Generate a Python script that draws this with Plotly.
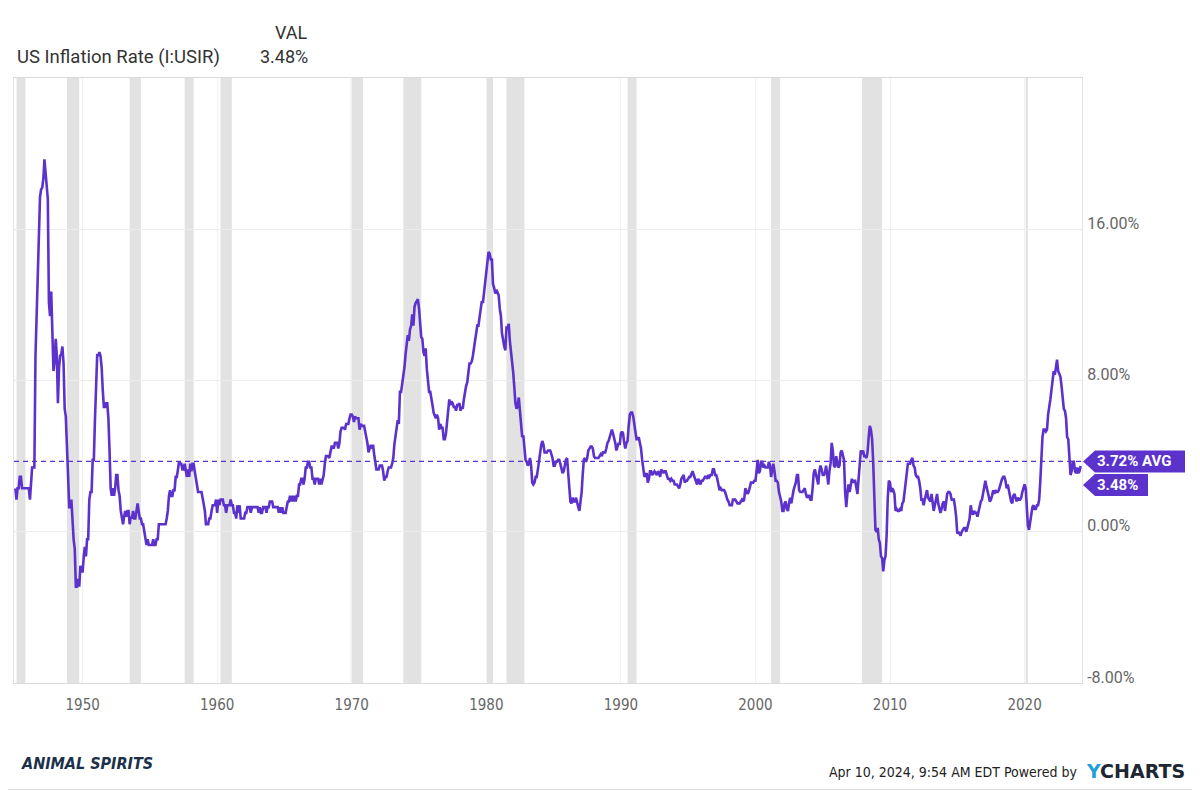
import pandas as pd
import plotly.graph_objects as go

# ---------------- data (monthly YoY US CPI inflation, %) ----------------
infl_1940s = [  # 1945-1949
    2.3, 1.7, 2.3, 2.3, 2.9, 2.9, 2.3, 2.3, 2.3, 2.3, 2.3, 2.3,
    2.3, 1.7, 2.8, 3.4, 3.4, 3.4, 9.3, 11.6, 12.7, 14.9, 17.7, 18.1,
    18.2, 18.7, 19.7, 19.0, 18.4, 17.6, 12.1, 11.4, 12.7, 10.6, 8.5, 9.0,
    10.2, 9.3, 6.8, 8.7, 9.3, 9.4, 9.8, 8.9, 6.5, 6.1, 4.8, 3.0,
    1.3, 1.3, 1.7, 0.4, -0.4, -0.9, -2.9, -2.9, -2.5, -2.9, -1.8, -2.1,
]
infl_1950s = [
    -2.1, -1.3, -0.8, -1.3, -0.4, -0.4, 1.7, 2.1, 2.1, 3.8, 3.8, 5.9,
    8.1, 9.4, 9.3, 9.5, 9.3, 8.7, 7.5, 6.6, 6.6, 6.8, 6.8, 6.0,
    4.3, 2.3, 1.9, 2.3, 1.9, 2.3, 3.0, 3.0, 2.2, 1.9, 1.1, 0.8,
    0.4, 0.8, 1.1, 0.8, 1.1, 1.1, 0.4, 0.8, 0.7, 1.1, 0.7, 0.7,
    1.1, 1.5, 1.1, 0.7, 0.7, 0.4, 0.4, 0.0, -0.4, -0.7, -0.4, -0.7,
    -0.7, -0.7, -0.7, -0.4, -0.7, -0.7, -0.4, -0.4, 0.4, 0.4, 0.4, 0.4,
    0.4, 0.4, 0.4, 0.7, 1.1, 1.9, 2.2, 1.9, 1.9, 2.2, 2.2, 2.9,
    2.9, 3.3, 3.7, 3.6, 3.6, 3.3, 3.3, 3.6, 3.3, 2.9, 3.3, 2.9,
    3.6, 3.2, 3.6, 3.6, 3.2, 2.8, 2.5, 2.1, 2.1, 2.1, 2.1, 1.8,
    1.4, 1.1, 0.4, 0.4, 0.4, 0.7, 0.7, 1.1, 1.4, 1.4, 1.4, 1.7,
]
infl_1960s = [
    1.0, 1.7, 1.4, 1.7, 1.7, 1.7, 1.4, 1.4, 1.0, 1.4, 1.4, 1.4,
    1.7, 1.4, 1.4, 1.0, 1.0, 0.7, 1.4, 1.0, 1.4, 0.7, 0.7, 0.7,
    0.7, 1.0, 1.0, 1.3, 1.3, 1.3, 1.0, 1.3, 1.3, 1.3, 1.3, 1.3,
    1.3, 1.0, 1.3, 1.0, 1.0, 1.3, 1.3, 1.3, 1.0, 1.3, 1.3, 1.6,
    1.6, 1.6, 1.3, 1.3, 1.3, 1.3, 1.3, 1.0, 1.3, 1.0, 1.3, 1.0,
    1.0, 1.0, 1.3, 1.6, 1.6, 1.9, 1.6, 1.9, 1.6, 1.9, 1.6, 1.9,
    1.9, 2.5, 2.5, 2.8, 2.8, 2.5, 2.8, 3.4, 3.4, 3.7, 3.7, 3.4,
    3.4, 2.8, 2.8, 2.5, 2.8, 2.8, 2.8, 2.5, 2.8, 2.5, 2.8, 3.0,
    3.6, 4.0, 4.0, 4.0, 3.9, 4.2, 4.5, 4.5, 4.4, 4.7, 4.7, 4.7,
    4.4, 4.7, 5.3, 5.5, 5.5, 5.5, 5.4, 5.7, 5.7, 5.7, 6.0, 6.2,
]
infl_1970s = [
    6.2, 6.1, 5.8, 6.1, 6.0, 6.0, 6.0, 5.4, 5.7, 5.6, 5.6, 5.6,
    5.3, 5.0, 4.7, 4.2, 4.4, 4.6, 4.4, 4.6, 4.1, 3.8, 3.3, 3.3,
    3.3, 3.5, 3.5, 3.5, 3.2, 2.7, 2.9, 2.9, 3.2, 3.4, 3.4, 3.4,
    3.6, 3.9, 4.6, 5.1, 5.5, 5.9, 5.7, 7.4, 7.4, 7.8, 8.3, 8.7,
    9.4, 10.0, 10.4, 10.1, 10.7, 10.9, 11.5, 10.9, 11.9, 12.1, 12.2, 12.3,
    11.8, 11.2, 10.3, 10.2, 9.5, 9.3, 9.7, 8.6, 7.9, 7.4, 7.4, 6.9,
    6.7, 6.3, 6.1, 6.0, 6.2, 6.0, 5.4, 5.7, 5.5, 5.5, 4.9, 4.9,
    5.2, 6.0, 6.4, 7.0, 6.7, 6.9, 6.8, 6.6, 6.6, 6.4, 6.7, 6.7,
    6.8, 6.4, 6.6, 6.5, 7.0, 7.4, 7.7, 7.9, 8.3, 8.9, 8.9, 9.0,
    9.3, 9.9, 10.1, 10.5, 10.9, 10.9, 11.3, 11.8, 12.2, 12.1, 12.6, 13.3,
]
infl_1980s = [
    13.9, 14.2, 14.8, 14.7, 14.4, 14.4, 13.1, 12.9, 12.6, 12.8, 12.6, 12.5,
    11.8, 11.4, 10.5, 10.0, 9.8, 9.6, 10.8, 10.8, 11.0, 10.1, 9.6, 8.9,
    8.4, 7.6, 6.8, 6.5, 6.7, 7.1, 6.4, 5.9, 5.0, 5.1, 4.6, 3.8,
    3.7, 3.5, 3.6, 3.9, 3.5, 2.6, 2.5, 2.6, 2.9, 2.9, 3.3, 3.8,
    4.2, 4.6, 4.8, 4.6, 4.2, 4.2, 4.2, 4.3, 4.3, 4.3, 4.1, 3.9,
    3.5, 3.5, 3.7, 3.7, 3.8, 3.8, 3.6, 3.3, 3.1, 3.2, 3.5, 3.8,
    3.9, 3.1, 2.2, 1.6, 1.5, 1.8, 1.6, 1.6, 1.8, 1.5, 1.3, 1.1,
    1.5, 2.1, 3.0, 3.8, 3.9, 3.7, 3.9, 4.3, 4.4, 4.5, 4.5, 4.4,
    4.0, 3.9, 3.9, 3.9, 3.9, 4.0, 4.1, 4.0, 4.2, 4.2, 4.2, 4.4,
    4.7, 4.8, 5.0, 5.1, 5.4, 5.2, 5.0, 4.7, 4.3, 4.5, 4.7, 4.6,
]
infl_1990s = [
    5.2, 5.3, 5.2, 4.7, 4.4, 4.7, 4.8, 5.6, 6.2, 6.3, 6.3, 6.1,
    5.7, 5.3, 4.9, 4.9, 5.0, 4.7, 4.4, 3.8, 3.4, 2.9, 3.0, 3.1,
    2.6, 2.8, 3.2, 3.2, 3.0, 3.1, 3.2, 3.1, 3.0, 3.2, 3.1, 2.9,
    3.3, 3.2, 3.1, 3.2, 3.2, 3.0, 2.8, 2.8, 2.7, 2.8, 2.7, 2.7,
    2.5, 2.5, 2.5, 2.4, 2.3, 2.5, 2.8, 2.9, 3.0, 2.6, 2.7, 2.7,
    2.8, 2.9, 2.9, 3.1, 3.2, 3.0, 2.8, 2.6, 2.5, 2.8, 2.6, 2.5,
    2.7, 2.7, 2.8, 2.9, 2.9, 2.8, 3.0, 2.9, 3.0, 3.0, 3.3, 3.3,
    3.0, 3.0, 2.8, 2.5, 2.2, 2.3, 2.2, 2.2, 2.2, 2.1, 1.8, 1.7,
    1.6, 1.4, 1.4, 1.4, 1.7, 1.7, 1.7, 1.6, 1.5, 1.5, 1.5, 1.6,
    1.7, 1.6, 1.7, 2.3, 2.1, 2.0, 2.1, 2.3, 2.6, 2.6, 2.6, 2.7,
]
infl_2000s = [
    2.7, 3.2, 3.8, 3.1, 3.2, 3.7, 3.7, 3.4, 3.5, 3.4, 3.4, 3.4,
    3.7, 3.5, 2.9, 3.3, 3.6, 3.2, 2.7, 2.7, 2.6, 2.1, 1.9, 1.6,
    1.1, 1.1, 1.5, 1.6, 1.2, 1.1, 1.5, 1.8, 1.5, 2.0, 2.2, 2.4,
    2.6, 3.0, 3.0, 2.2, 2.1, 2.1, 2.1, 2.2, 2.3, 2.0, 1.8, 1.9,
    1.9, 1.7, 1.7, 2.3, 3.1, 3.3, 3.0, 2.7, 2.5, 3.2, 3.5, 3.3,
    3.0, 3.0, 3.1, 3.5, 2.8, 2.5, 3.2, 3.6, 4.7, 4.3, 3.5, 3.4,
    4.0, 3.6, 3.4, 3.5, 4.2, 4.3, 4.1, 3.8, 2.1, 1.3, 2.0, 2.5,
    2.1, 2.4, 2.8, 2.6, 2.7, 2.7, 2.4, 2.0, 2.8, 3.5, 4.3, 4.1,
    4.3, 4.0, 4.0, 3.9, 4.2, 5.0, 5.6, 5.4, 4.9, 3.7, 1.1, 0.1,
    0.0, 0.2, -0.4, -0.6, -1.3, -1.4, -2.1, -1.5, -1.3, -0.2, 1.8, 2.7,
]
infl_2010s = [
    2.6, 2.1, 2.3, 2.2, 2.0, 1.1, 1.2, 1.1, 1.1, 1.2, 1.1, 1.5,
    1.6, 2.1, 2.7, 3.2, 3.6, 3.6, 3.6, 3.8, 3.9, 3.5, 3.4, 3.0,
    2.9, 2.9, 2.7, 2.3, 1.7, 1.7, 1.4, 1.7, 2.0, 2.2, 1.8, 1.7,
    1.6, 2.0, 1.5, 1.1, 1.4, 1.8, 2.0, 1.5, 1.2, 1.0, 1.2, 1.5,
    1.6, 1.1, 1.5, 2.0, 2.1, 2.1, 2.0, 1.7, 1.7, 1.7, 1.3, 0.8,
    -0.1, 0.0, -0.1, -0.2, 0.0, 0.1, 0.2, 0.2, 0.0, 0.2, 0.5, 0.7,
    1.4, 1.0, 0.9, 1.1, 1.0, 1.0, 0.8, 1.1, 1.5, 1.6, 1.7, 2.1,
    2.5, 2.7, 2.4, 2.2, 1.9, 1.6, 1.7, 1.9, 2.2, 2.0, 2.2, 2.1,
    2.1, 2.2, 2.4, 2.5, 2.8, 2.9, 2.9, 2.7, 2.3, 2.5, 2.2, 1.9,
    1.6, 1.5, 1.9, 2.0, 1.8, 1.6, 1.8, 1.7, 1.7, 1.8, 2.1, 2.3,
]
infl_2020s = [
    2.5, 2.3, 1.5, 0.3, 0.1, 0.6, 1.0, 1.3, 1.4, 1.2, 1.2, 1.4,
    1.4, 1.7, 2.6, 4.2, 5.0, 5.4, 5.4, 5.3, 5.4, 6.2, 6.8, 7.0,
    7.5, 7.9, 8.5, 8.3, 8.6, 9.1, 8.5, 8.3, 8.2, 7.7, 7.1, 6.5,
    6.4, 6.0, 5.0, 4.9, 4.0, 3.0, 3.2, 3.7, 3.7, 3.2, 3.1, 3.4,
    3.1, 3.2, 3.48,
]
series_start = "1945-01-01"

avg_value = 3.72
last_value = 3.48

rec_starts = ["1945-02-01", "1948-11-01", "1953-07-01", "1957-08-01", "1960-04-01",
              "1969-12-01", "1973-11-01", "1980-01-01", "1981-07-01", "1990-07-01",
              "2001-03-01", "2007-12-01", "2020-02-01"]
rec_ends = ["1945-10-01", "1949-10-01", "1954-05-01", "1958-04-01", "1961-02-01",
            "1970-11-01", "1975-03-01", "1980-07-01", "1982-11-01", "1991-03-01",
            "2001-11-01", "2009-06-01", "2020-04-01"]

y_tickvals = [-8, 0, 8, 16]
y_ticktext = ["-8.00%", "0.00%", "8.00%", "16.00%"]
x_tickvals = ["1950-01-01", "1960-01-01", "1970-01-01", "1980-01-01",
              "1990-01-01", "2000-01-01", "2010-01-01", "2020-01-01"]
x_ticktext = ["1950", "1960", "1970", "1980", "1990", "2000", "2010", "2020"]

series_name = "US Inflation Rate (I:USIR)"

# ---------------- build ----------------
values = (infl_1940s + infl_1950s + infl_1960s + infl_1970s + infl_1980s +
          infl_1990s + infl_2000s + infl_2010s + infl_2020s)
dates = pd.date_range(series_start, periods=len(values), freq="MS")

PURPLE = "#5b32cc"
OFF = 8                      # page body margin offset
W, H = 1200 - OFF, 790 - OFF
ML, MR, MT, MB = 14 - OFF, 118, 78 - OFF, 107
PW, PH = W - ML - MR, H - MT - MB
NARROW = "DejaVu Sans Condensed, Roboto"


def px(x):
    """reference-image pixel x -> paper coordinate"""
    return (x - OFF - ML) / PW


def py(y):
    """reference-image pixel y -> paper coordinate"""
    return (H - MB - (y - OFF)) / PH


fig = go.Figure()
fig.add_trace(go.Scatter(x=dates, y=values, mode="lines",
                         line=dict(color=PURPLE, width=2.6),
                         name=series_name, hoverinfo="x+y"))

shapes = []
for s, e in zip(rec_starts, rec_ends):
    shapes.append(dict(type="rect", xref="x", yref="paper", x0=s, x1=e, y0=0, y1=1,
                       fillcolor="#e2e2e2", line=dict(width=0), layer="between"))
# average line
shapes.append(dict(type="line", xref="paper", yref="y", x0=0, x1=1,
                   y0=avg_value, y1=avg_value,
                   line=dict(color=PURPLE, width=1.2, dash="5px,4px")))
# flag labels on the right
shapes.append(dict(type="path", xref="paper", yref="y", xanchor=1, yanchor=avg_value,
                   xsizemode="pixel", ysizemode="pixel",
                   path="M 1 0 L 13 11 L 103 11 L 103 -11 L 13 -11 Z",
                   fillcolor=PURPLE, line=dict(width=0)))
shapes.append(dict(type="path", xref="paper", yref="y", xanchor=1, yanchor=last_value,
                   xsizemode="pixel", ysizemode="pixel",
                   path="M 1 -19 L 13 -8 L 66 -8 L 66 -30 L 13 -30 Z",
                   fillcolor=PURPLE, line=dict(width=0)))
# right / bottom image border
shapes.append(dict(type="line", xref="paper", yref="paper",
                   x0=px(1199.5), x1=px(1199.5), y0=py(789.5), y1=py(8),
                   line=dict(color="#e0e0e0", width=1)))
shapes.append(dict(type="line", xref="paper", yref="paper",
                   x0=px(8), x1=px(1199.5), y0=py(789.5), y1=py(789.5),
                   line=dict(color="#e0e0e0", width=1)))

annotations = [
    dict(text=f"{avg_value:.2f}% AVG", xref="paper", yref="y", x=1, y=avg_value,
         xanchor="left", yanchor="middle", xshift=13, showarrow=False,
         font=dict(family="Roboto", size=15, color="white", weight="bold")),
    dict(text=f"{last_value:.2f}%", xref="paper", yref="y", x=1, y=last_value,
         xanchor="left", yanchor="middle", xshift=13, yshift=-19, showarrow=False,
         font=dict(family="Roboto", size=15, color="white", weight="bold")),
    dict(text="VAL", xref="paper", yref="paper", x=px(310), y=py(32),
         xanchor="right", yanchor="middle", showarrow=False,
         font=dict(family="Roboto", size=18, color="#333333")),
    dict(text=series_name, xref="paper", yref="paper", x=px(15), y=py(57),
         xanchor="left", yanchor="middle", showarrow=False,
         font=dict(family="Roboto", size=18.5, color="#333333")),
    dict(text=f"{last_value:.2f}%", xref="paper", yref="paper", x=px(310), y=py(57),
         xanchor="right", yanchor="middle", showarrow=False,
         font=dict(family="Roboto", size=18, color="#333333")),
    dict(text="<i>ANIMAL SPIRITS</i>", xref="paper", yref="paper", x=px(19), y=py(763),
         xanchor="left", yanchor="middle", showarrow=False,
         font=dict(family=NARROW, size=16, color="#1b3149", weight="bold")),
    dict(text="Apr 10, 2024, 9:54 AM EDT Powered by", xref="paper", yref="paper",
         x=px(1079), y=py(772), xanchor="right", yanchor="middle", showarrow=False,
         font=dict(family=NARROW, size=14, color="#222222")),
    dict(text="<span style='color:#1f9fe0'>Y</span>CHARTS", xref="paper", yref="paper",
         x=px(1084), y=py(771), xanchor="left", yanchor="middle", showarrow=False,
         font=dict(family="DejaVu Sans", size=19, color="#1c2733", weight="bold")),
]

fig.update_layout(
    width=W, height=H,
    margin=dict(l=ML, r=MR, t=MT, b=MB, pad=0),
    paper_bgcolor="white", plot_bgcolor="white",
    showlegend=False,
    shapes=shapes, annotations=annotations,
    xaxis=dict(type="date", range=["1944-11-25", "2024-04-08"],
               tickvals=x_tickvals, ticktext=x_ticktext,
               showgrid=True, gridcolor="#f1f1f1", gridwidth=1,
               showline=True, linecolor="#dadada", linewidth=1, mirror=True,
               ticks="", zeroline=False, ticklabelstandoff=8,
               tickfont=dict(family=NARROW, size=15, color="#666666")),
    yaxis=dict(range=[-8, 24], side="right",
               tickvals=y_tickvals, ticktext=y_ticktext,
               showgrid=True, gridcolor="#ececec", gridwidth=1,
               showline=True, linecolor="#e3e3e3", linewidth=1, mirror=True,
               ticks="", zeroline=False, ticklabelstandoff=1, ticklabelshift=-6,
               tickfont=dict(family="Roboto", size=16, color="#666666")),
)

fig.write_html("out.html")
